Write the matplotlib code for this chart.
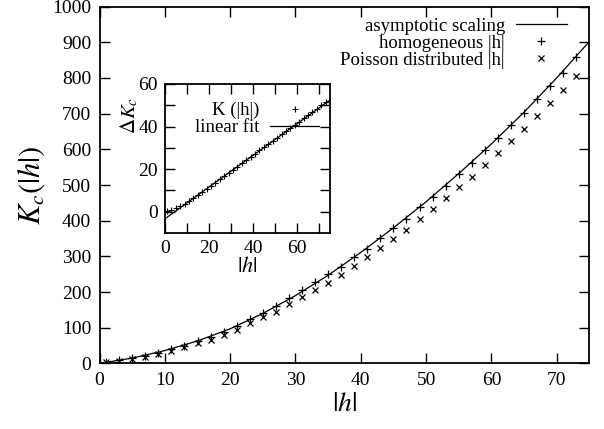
import numpy as np
import matplotlib
matplotlib.use("Agg")
from matplotlib import pyplot as plt

plt.rcParams['font.family'] = 'serif'
plt.rcParams['font.serif'] = ['Liberation Serif', 'DejaVu Serif']
plt.rcParams['mathtext.fontset'] = 'stix'

# main panel: critical K vs |h|
h = np.arange(1, 75, 2)
K_homog = [3, 9, 14, 21, 30, 40, 50, 63, 75, 88, 105, 124, 142, 161, 182, 206, 227,
           250, 271, 299, 322, 352, 379, 404, 437, 467, 497, 531, 562, 598, 632, 667,
           703, 740, 777, 815, 859]
K_poisson = [3, 8, 13, 19, 27, 36, 46, 56, 67, 80, 95, 113, 129, 145, 166, 185, 206,
             226, 248, 273, 297, 323, 348, 374, 404, 432, 463, 494, 523, 556, 589, 622,
             657, 693, 729, 766, 805]

# asymptotic scaling curve
h_asym = [0, 5, 10, 15, 20, 25, 30, 35, 40, 45, 50, 55, 60, 65, 70, 75]
K_asym = [0, 15, 36, 63, 97, 140, 190, 247, 311, 380, 453, 532, 615, 704, 800, 902]

# inset: difference and linear fit
dK = [0.5, 1.0, 1.8, 2.8, 3.8, 5.0, 6.3, 7.7, 9.2, 10.7, 12.2, 13.7, 15.2, 16.7, 18.2,
      19.7, 21.2, 22.7, 24.2, 25.7, 27.2, 28.8, 30.3, 31.8, 33.3, 34.8, 36.3, 37.8,
      39.3, 40.8, 42.3, 43.8, 45.4, 46.9, 48.4, 49.9, 51.4]
fit_slope = 0.745
fit_intercept = -3.4

fig = plt.figure(figsize=(6.04, 4.29), dpi=100)
ax = fig.add_axes([0.1649, 0.1529, 0.8108, 0.8317])

ax.plot(h_asym, K_asym, color='black', lw=0.9, label='asymptotic scaling')
ax.plot(h, K_homog, ls='none', marker='+', ms=6, mew=0.9, color='black',
        label='homogeneous |h|')
ax.plot(h, K_poisson, ls='none', marker='x', ms=5, mew=0.9, color='black',
        label='Poisson distributed |h|')

ax.set_xlim(0, 75)
ax.set_ylim(0, 1000)
ax.set_xticks(np.arange(0, 75, 10))
ax.set_yticks(np.arange(0, 1001, 100))
ax.tick_params(direction='in', length=7, width=1, top=True, right=True,
               labelsize=14, pad=6)
for s in ax.spines.values():
    s.set_linewidth(1.3)
ax.set_xlabel(r'$|h|$', fontsize=20, labelpad=2)
ax.set_ylabel(r'$K_c(|h|)$', fontsize=22, labelpad=4)

ax.legend(loc='upper right', frameon=False, markerfirst=False, fontsize=13.5,
          handlelength=2.7, handletextpad=0.6, labelspacing=0.0,
          borderaxespad=0.0, bbox_to_anchor=(0.969, 0.99))

# inset
ins = fig.add_axes([0.2727, 0.4569, 0.2737, 0.3473])
x_fit = np.array([0, 75])
ins.plot(h, dK, ls='none', marker='+', ms=5, mew=0.8, color='black', label='K (|h|)')
ins.plot(x_fit, fit_intercept + fit_slope * x_fit, color='black', lw=0.9,
         label='linear fit')
ins.set_xlim(0, 75)
ins.set_ylim(-10, 60)
ins.set_xticks(np.arange(0, 75, 10))
ins.set_xticklabels(['0', '', '20', '', '40', '', '60', ''])
ins.set_yticks(np.arange(0, 61, 10))
ins.set_yticklabels(['0', '', '20', '', '40', '', '60'])
ins.tick_params(direction='in', length=7, width=1, top=True, right=True,
                labelsize=14, pad=5)
for s in ins.spines.values():
    s.set_linewidth(1.3)
ins.set_xlabel(r'$|h|$', fontsize=16, labelpad=0)
ins.set_ylabel(r'$\Delta K_c$', fontsize=15)
ins.yaxis.set_label_coords(-0.15, 0.79)
ins.legend(loc='upper right', frameon=False, markerfirst=False, fontsize=13.5,
           handlelength=2.6, handletextpad=0.6, labelspacing=0.0,
           borderaxespad=0.0, bbox_to_anchor=(0.98, 0.93))

fig.savefig('out.png', dpi=100)
